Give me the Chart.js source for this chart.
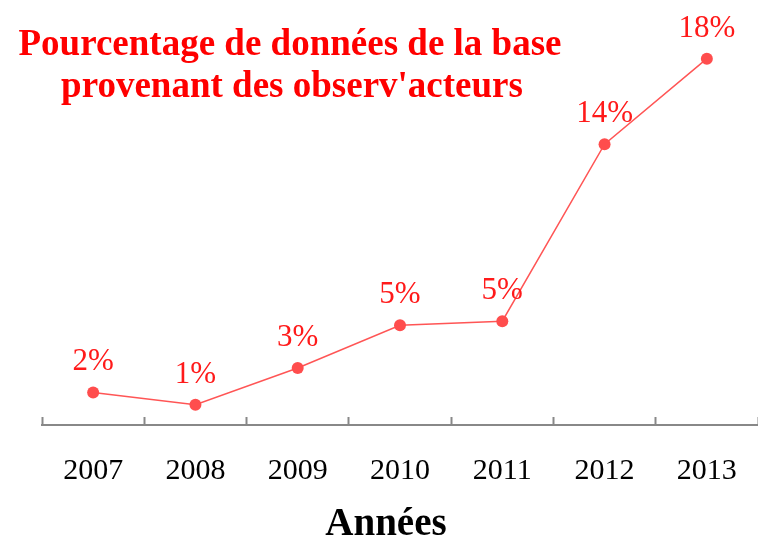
<!DOCTYPE html>
<html>
<head>
<meta charset="utf-8">
<script src="https://cdn.jsdelivr.net/npm/chart.js@4/dist/chart.umd.min.js"></script>
<style>
  html, body { margin: 0; padding: 0; background: #fff; }
  #wrap { width: 758px; height: 544px; }
</style>
</head>
<body>
<div id="wrap"><canvas id="chart"></canvas></div>
<script>
// --- données ---
const annees = ['2007', '2008', '2009', '2010', '2011', '2012', '2013'];
const pourcentages = [1.6, 1.0, 2.8, 4.9, 5.1, 13.8, 18.0];
const etiquettes = ['2%', '1%', '3%', '5%', '5%', '14%', '18%'];
const titreLignes = ['Pourcentage de données de la base', "provenant des observ'acteurs"];
const titreAxe = 'Années';

const SERIF = '"Liberation Serif", "DejaVu Serif", serif';

// étiquettes de valeurs + titres dessinés à la main
const decorPlugin = {
    id: 'decor',
    afterDatasetsDraw(chart) {
        const ctx = chart.ctx;
        const meta = chart.getDatasetMeta(0);
        ctx.save();
        ctx.fillStyle = '#ff1a1a';
        ctx.font = '31px ' + SERIF;
        ctx.textAlign = 'center';
        ctx.textBaseline = 'alphabetic';
        meta.data.forEach((pt, i) => {
            ctx.fillText(etiquettes[i], pt.x, pt.y - 22);
        });

        ctx.fillStyle = '#ff0000';
        ctx.font = 'bold 37px ' + SERIF;
        ctx.fillText(titreLignes[0], 290, 55);
        ctx.fillText(titreLignes[1], 292, 97);

        ctx.fillStyle = '#000';
        ctx.font = 'bold 39px ' + SERIF;
        ctx.fillText(titreAxe, 386, 535);
        ctx.restore();
    }
};

new Chart(document.getElementById('chart'), {
    type: 'line',
    data: {
        labels: annees,
        datasets: [{
            data: pourcentages,
            borderColor: '#ff5555',
            backgroundColor: '#ff4d4d',
            borderWidth: 1.5,
            pointRadius: 6,
            pointHoverRadius: 6,
            pointBorderWidth: 0,
            tension: 0
        }]
    },
    options: {
        responsive: true,
        maintainAspectRatio: false,
        animation: false,
        layout: { autoPadding: false, padding: { top: 18, left: 42, right: 0, bottom: 19 } },
        plugins: {
            legend: { display: false },
            tooltip: { enabled: false },
            title: { display: false }
        },
        scales: {
            x: {
                offset: true,
                afterFit(scale) { scale.paddingLeft = 0; scale.paddingRight = 0; },
                grid: {
                    offset: true,
                    drawOnChartArea: false,
                    drawTicks: true,
                    tickLength: -8,
                    tickWidth: 2,
                    tickColor: '#888'
                },
                border: { display: true, color: '#888', width: 2 },
                ticks: {
                    color: '#000',
                    padding: 36,
                    font: { family: SERIF, size: 30 }
                }
            },
            y: {
                display: false,
                min: 0,
                max: 20
            }
        }
    },
    plugins: [decorPlugin]
});
</script>
</body>
</html>
